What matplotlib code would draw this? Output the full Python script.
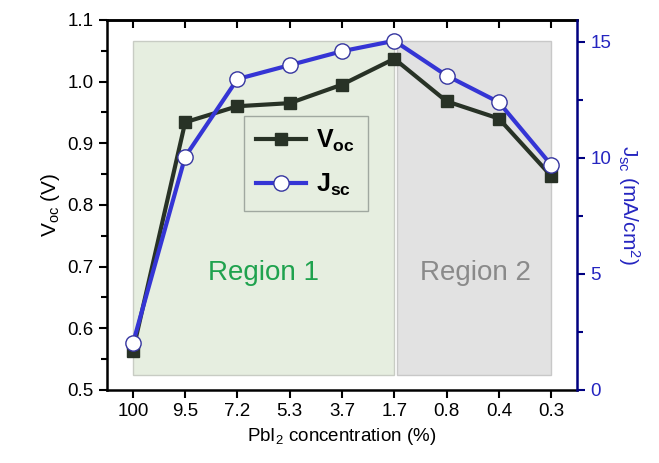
import matplotlib
matplotlib.use("Agg")
import matplotlib.pyplot as plt
from matplotlib.ticker import MultipleLocator
from matplotlib.patches import Rectangle

plt.rcParams['font.family'] = ['Liberation Sans', 'DejaVu Sans']
plt.rcParams['mathtext.fontset'] = 'custom'
plt.rcParams['mathtext.rm'] = 'Liberation Sans'
plt.rcParams['mathtext.it'] = 'Liberation Sans:italic'
plt.rcParams['mathtext.bf'] = 'Liberation Sans:bold'

categories = ["100", "9.5", "7.2", "5.3", "3.7", "1.7", "0.8", "0.4", "0.3"]
voc = [0.563, 0.934, 0.960, 0.965, 0.995, 1.037, 0.968, 0.940, 0.847]
jsc = [2.0, 10.05, 13.4, 14.0, 14.6, 15.05, 13.55, 12.4, 9.7]

fig = plt.figure(figsize=(6.59, 4.63), dpi=100)
ax = fig.add_axes([0.162, 0.158, 0.714, 0.799])
ax2 = ax.twinx()

x = list(range(len(categories)))

# shaded regions
ax.add_patch(Rectangle((0, 0.524), 5, 1.066 - 0.524, facecolor='#e6eee0',
                       edgecolor='#c8ccc4', lw=1, zorder=0))
ax.add_patch(Rectangle((5.05, 0.524), 2.95, 1.066 - 0.524, facecolor='#e2e2e2',
                       edgecolor='#c8c8c8', lw=1, zorder=0))
ax.text(2.5, 0.69, "Region 1", color='#1fa24e', fontsize=20, ha='center', va='center')
ax.text(6.55, 0.69, "Region 2", color='#8a8a8a', fontsize=20, ha='center', va='center')

l1, = ax.plot(x, voc, color='#283226', lw=3, marker='s', markersize=9,
              markerfacecolor='#283226', markeredgecolor='#283226', zorder=3,
              label=r'$\mathbf{V_{oc}}$')
l2, = ax2.plot(x, jsc, color='#3535d5', lw=3, marker='o', markersize=11,
               markerfacecolor='white', markeredgecolor='#3535a0', zorder=3,
               label=r'$\mathbf{J_{sc}}$')

ax.set_xlim(-0.5, 8.5)
ax.set_ylim(0.5, 1.1)
ax2.set_ylim(0, 15.95)
ax.set_xticks(x)
ax.set_xticklabels(categories)
ax.yaxis.set_major_locator(MultipleLocator(0.1))
ax.yaxis.set_minor_locator(MultipleLocator(0.05))
ax2.yaxis.set_major_locator(MultipleLocator(5))
ax2.yaxis.set_minor_locator(MultipleLocator(2.5))

ax.tick_params(axis='both', which='both', labelsize=13.5, width=1.5, direction='out')
ax.tick_params(axis='x', length=6)
ax.tick_params(axis='y', which='major', length=6)
ax.tick_params(axis='y', which='minor', length=4)

top = ax.secondary_xaxis('top')
top.set_xticks(x)
top.tick_params(axis='x', direction='in', length=6, width=1.5, labeltop=False)
top.spines['top'].set_linewidth(1.8)

ax2.tick_params(axis='y', which='major', length=6, width=1.5, colors='#000080',
                labelsize=13.5, labelcolor='#2525c0')
ax2.tick_params(axis='y', which='minor', length=4, width=1.5, colors='#000080')

for s in ['left', 'bottom', 'top']:
    ax.spines[s].set_linewidth(1.8)
ax.spines['right'].set_visible(False)
ax2.spines['right'].set_color('#000080')
ax2.spines['right'].set_linewidth(1.8)
for s in ['left', 'bottom', 'top']:
    ax2.spines[s].set_visible(False)

ax.set_ylabel(r'V$_{\mathregular{oc}}$ (V)', fontsize=15)
ax.set_xlabel(r'PbI$_2$ concentration (%)', fontsize=13.5)
ax2.set_ylabel(r'J$_{\mathregular{sc}}$ (mA/cm$^2$)', fontsize=15, color='#2525c0',
               rotation=270, labelpad=22)

leg = ax.legend(handles=[l1, l2], loc='upper left', bbox_to_anchor=(0.265, 0.775),
                fontsize=18, frameon=True, fancybox=False, edgecolor='#a0a8a0',
                facecolor='#e6eee0', framealpha=1, handlelength=2.0, labelspacing=0.7,
                handletextpad=0.4, borderpad=0.5)
leg.get_frame().set_linewidth(1)

fig.savefig("out.png", dpi=100)
